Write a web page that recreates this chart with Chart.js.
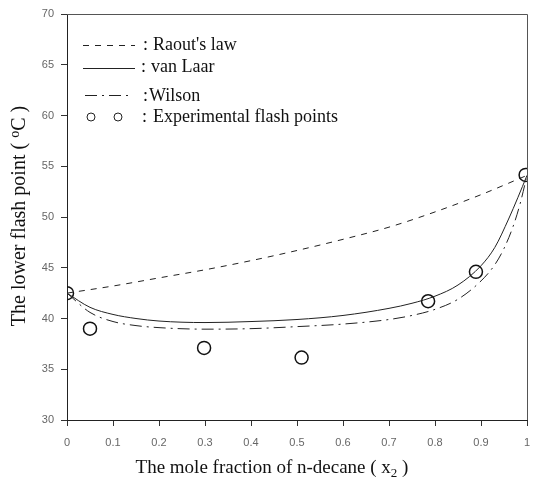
<!DOCTYPE html>
<html><head><meta charset="utf-8">
<script src="https://cdn.jsdelivr.net/npm/chart.js@4/dist/chart.umd.min.js"></script>
<style>html,body{margin:0;padding:0;background:#fff}#wrap{width:537px;height:485px}</style>
</head><body><div id="wrap"><canvas id="c" width="537" height="485"></canvas></div>
<script>
const seriesLabels = ["Raout's law", "van Laar", "Wilson", "Experimental flash points"];
const raoultX = [0, 0.1, 0.2, 0.3, 0.4, 0.5, 0.6, 0.7, 0.8, 0.9, 1.0];
const raoultY = [42.5, 43.2, 44.0, 44.8, 45.7, 46.7, 47.8, 49.0, 50.5, 52.2, 54.1];
const vanLaarX = [0, 0.05, 0.1, 0.15, 0.2, 0.3, 0.4, 0.5, 0.6, 0.7, 0.75, 0.8, 0.85, 0.9, 0.93, 0.96, 0.98, 1];
const vanLaarY = [42.5, 41.1, 40.4, 40.0, 39.75, 39.6, 39.7, 39.9, 40.3, 41.0, 41.5, 42.2, 43.3, 45.2, 47.0, 49.8, 51.9, 54.1];
const wilsonX = [0, 0.05, 0.1, 0.15, 0.2, 0.3, 0.4, 0.5, 0.6, 0.7, 0.75, 0.8, 0.85, 0.9, 0.93, 0.95, 0.97, 0.985, 1];
const wilsonY = [42.5, 40.6, 39.7, 39.3, 39.1, 38.95, 39.0, 39.2, 39.45, 39.9, 40.3, 40.9, 41.9, 43.7, 45.3, 46.9, 49.1, 51.3, 54.1];
const expX = [0, 0.05, 0.298, 0.51, 0.785, 0.889, 0.997];
const expY = [42.5, 39.0, 37.1, 36.15, 41.7, 44.6, 54.15];
const xTickLabels = ["0", "0.1", "0.2", "0.3", "0.4", "0.5", "0.6", "0.7", "0.8", "0.9", "1"];
const yTickLabels = ["30", "35", "40", "45", "50", "55", "60", "65", "70"];
const xTitle = ["The mole fraction of n-decane ( x", "2", " )"];
const yTitle = ["The lower flash point ( ", "o", "C )"];

const pts = (xs, ys) => xs.map((x, i) => ({x: x, y: ys[i]}));
const ink = '#222';
const dashes = [[6, 6], [], [12, 5, 2, 5]];

const overlay = {
  id: 'overlay',
  afterDraw(chart) {
    const ctx = chart.ctx, a = chart.chartArea;
    ctx.save();
    ctx.strokeStyle = '#555'; ctx.lineWidth = 1;
    ctx.beginPath();
    ctx.moveTo(a.left, a.top + 0.5); ctx.lineTo(a.right + 0.5, a.top + 0.5); ctx.lineTo(a.right + 0.5, a.bottom);
    ctx.stroke();
    ctx.fillStyle = '#111';
    ctx.font = '18px "Liberation Serif", "Times New Roman", serif';
    ctx.textBaseline = 'middle';
    const rows = [
      {y: 45, lx: [83, 135], ly: 45, cx: 143, tx: 153},
      {y: 67, lx: [83, 135], ly: 68, cx: 141, tx: 151},
      {y: 96, lx: [85, 128], ly: 95, cx: 143, tx: 149},
      {y: 117, cx: 142, tx: 153}
    ];
    rows.forEach((r, i) => {
      if (i < 3) {
        ctx.strokeStyle = ink; ctx.lineWidth = 1; ctx.setLineDash(dashes[i]);
        ctx.beginPath(); ctx.moveTo(r.lx[0], r.ly + 0.5); ctx.lineTo(r.lx[1], r.ly + 0.5); ctx.stroke();
        ctx.setLineDash([]);
      } else {
        ctx.strokeStyle = ink; ctx.lineWidth = 1;
        [91, 118].forEach(cx => { ctx.beginPath(); ctx.arc(cx, r.y, 4, 0, Math.PI * 2); ctx.stroke(); });
      }
      ctx.textAlign = 'left';
      ctx.fillText(':', r.cx, r.y);
      ctx.fillText(seriesLabels[i], r.tx, r.y);
    });
    ctx.textBaseline = 'alphabetic';
    const small = '13px "Liberation Serif", "Times New Roman", serif';
    const big = '19px "Liberation Serif", "Times New Roman", serif';
    ctx.font = big; const w0 = ctx.measureText(xTitle[0]).width, w2 = ctx.measureText(xTitle[2]).width;
    ctx.font = small; const w1 = ctx.measureText(xTitle[1]).width;
    let x = 272 - (w0 + w1 + w2) / 2; const by = 473;
    ctx.font = big; ctx.fillText(xTitle[0], x, by); x += w0;
    ctx.font = small; ctx.fillText(xTitle[1], x, by + 4); x += w1;
    ctx.font = big; ctx.fillText(xTitle[2], x, by);
    const bigY = '20px "Liberation Serif", "Times New Roman", serif';
    const smallY = '14px "Liberation Serif", "Times New Roman", serif';
    ctx.translate(25, 216); ctx.rotate(-Math.PI / 2);
    ctx.font = bigY; const v0 = ctx.measureText(yTitle[0]).width, v2 = ctx.measureText(yTitle[2]).width;
    ctx.font = smallY; const v1 = ctx.measureText(yTitle[1]).width;
    let yx = -(v0 + v1 + v2) / 2;
    ctx.font = bigY; ctx.fillText(yTitle[0], yx, 0); yx += v0;
    ctx.font = smallY; ctx.fillText(yTitle[1], yx, -6); yx += v1;
    ctx.font = bigY; ctx.fillText(yTitle[2], yx, 0);
    ctx.restore();
  }
};

const lineDs = (label, data, dash) => ({
  label, data, showLine: true, borderColor: ink, borderWidth: 1, borderDash: dash,
  pointRadius: 0, fill: false, cubicInterpolationMode: 'monotone'
});

new Chart(document.getElementById('c'), {
  type: 'scatter',
  data: {
    datasets: [
      lineDs(seriesLabels[0], pts(raoultX, raoultY), dashes[0]),
      lineDs(seriesLabels[1], pts(vanLaarX, vanLaarY), dashes[1]),
      lineDs(seriesLabels[2], pts(wilsonX, wilsonY), dashes[2]),
      {label: seriesLabels[3], data: pts(expX, expY), showLine: false, pointRadius: 6.5,
       pointBorderWidth: 1.5, pointBorderColor: '#111', pointBackgroundColor: 'rgba(0,0,0,0)'}
    ]
  },
  options: {
    responsive: false, animation: false,
    layout: {padding: {top: 14, right: 10, left: 0, bottom: 0}},
    plugins: {legend: {display: false}, tooltip: {enabled: false}},
    scales: {
      x: {
        type: 'linear', min: 0, max: 1,
        afterFit(s) { s.height = 65; s.paddingLeft = 0; s.paddingRight = 0; },
        afterBuildTicks(s) { s.ticks = xTickLabels.map(t => ({value: parseFloat(t)})); },
        ticks: {callback: (v, i) => xTickLabels[i], color: '#666', font: {family: 'Liberation Sans, Arial', size: 11}, padding: 10, maxRotation: 0, autoSkip: false},
        grid: {drawOnChartArea: false, drawTicks: true, tickLength: 6, color: '#333'},
        border: {display: true, color: '#222', width: 1}
      },
      y: {
        type: 'linear', min: 30, max: 70,
        afterFit(s) { s.width = 67; s.paddingTop = 0; s.paddingBottom = 0; },
        afterBuildTicks(s) { s.ticks = yTickLabels.map(t => ({value: parseFloat(t)})); },
        ticks: {callback: (v, i) => yTickLabels[i], color: '#666', font: {family: 'Liberation Sans, Arial', size: 11}, padding: 7, autoSkip: false},
        grid: {drawOnChartArea: false, drawTicks: true, tickLength: 6, color: '#333'},
        border: {display: true, color: '#222', width: 1}
      }
    }
  },
  plugins: [overlay]
});
</script>
</body></html>
